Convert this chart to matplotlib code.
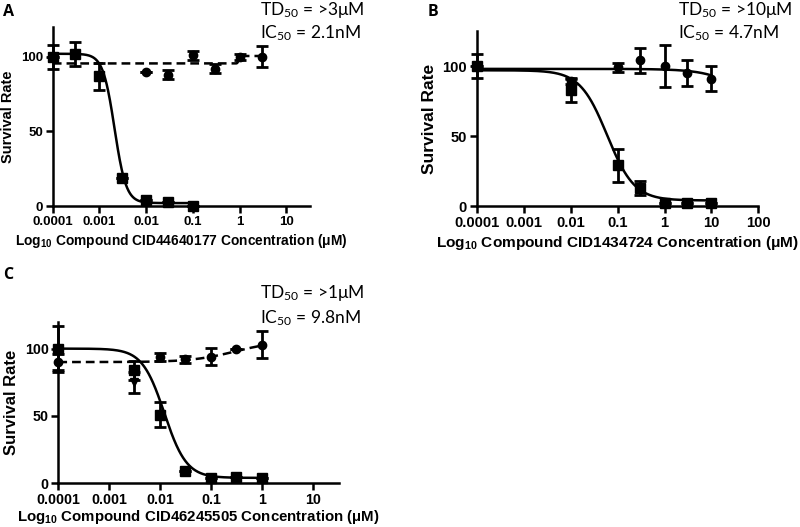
import numpy as np
import matplotlib
matplotlib.use("Agg")
import matplotlib.pyplot as plt

plt.rcParams['font.family'] = ['Liberation Sans', 'DejaVu Sans']
plt.rcParams['font.weight'] = 'bold'
plt.rcParams['mathtext.default'] = 'regular'

# ---- Panel A: CID44640177 ----
a_inh_x = [0.0001, 0.0003, 0.001, 0.003, 0.01, 0.03, 0.1]
a_inh_y = [100, 102, 87, 19, 4, 3, 0]
a_inh_err = [0, 8, 9, 0, 0, 0, 0]
a_tox_x = [0.0001, 0.01, 0.03, 0.1, 0.3, 1, 3]
a_tox_y = [100, 90, 88, 101, 92, 100, 100]
a_tox_err = [8, 0, 3, 3, 3, 2, 7]
a_inh_fit = dict(top=102, bottom=2, c=0.0021, h=3.5)   # decreasing fit
a_tox_fit = dict(bottom=95.5, top=100.5, c=0.95, h=40)  # increasing fit

# ---- Panel B: CID1434724 ----
b_inh_x = [0.0001, 0.01, 0.1, 0.3, 1, 3, 10]
b_inh_y = [100, 83, 29, 13, 2, 2.5, 2]
b_inh_err = [0, 8.5, 12, 5, 0, 0, 0]
b_tox_x = [0.0001, 0.01, 0.1, 0.3, 1, 3, 10]
b_tox_y = [100, 89, 99, 104, 100, 95, 91]
b_tox_err = [8.5, 2, 3, 9, 15, 9, 9]
b_inh_fit = dict(top=97, bottom=4, c=0.06, h=1.5)
b_tox_fit = dict(top=98, bottom=0, c=200, h=1)

# ---- Panel C: CID46245505 ----
c_inh_x = [0.0001, 0.003, 0.01, 0.03, 0.1, 0.3, 1]
c_inh_y = [100, 84, 51, 9, 4, 4.5, 4]
c_inh_err = [17, 7, 9.5, 0, 0, 0, 0]
c_tox_x = [0.0001, 0.003, 0.01, 0.03, 0.1, 0.3, 1]
c_tox_y = [90, 75, 94, 92, 94, 100, 103]
c_tox_err = [6, 8, 3, 2.5, 6.5, 0, 10]
c_tox_mk = ['o', 'v', 'o', 'o', 'o', 'o', 'o']
c_inh_fit = dict(top=100, bottom=4, c=0.012, h=2)
c_tox_fit = dict(bottom=90, top=106, c=0.3, h=1)

xticks_ac = [0.0001, 0.001, 0.01, 0.1, 1, 10]
xticks_b = [0.0001, 0.001, 0.01, 0.1, 1, 10, 100]
xtick_labels = {0.0001: '0.0001', 0.001: '0.001', 0.01: '0.01', 0.1: '0.1',
                1: '1', 10: '10', 100: '100'}


def down_curve(x, p):
    return p['bottom'] + (p['top'] - p['bottom']) / (1 + (x / p['c']) ** p['h'])


def up_curve(x, p):
    return p['bottom'] + (p['top'] - p['bottom']) / (1 + (p['c'] / x) ** p['h'])


def style_axis(ax, xlim, ylim, xticks, xlabel, tick_fs, ylab_fs, xlab_fs, xpad=3):
    ax.set_xscale('log')
    ax.set_xlim(*xlim)
    ax.set_ylim(*ylim)
    ax.spines['top'].set_visible(False)
    ax.spines['right'].set_visible(False)
    for s in ['left', 'bottom']:
        ax.spines[s].set_linewidth(1.8)
    ax.set_xticks(xticks)
    ax.set_xticklabels([xtick_labels[t] for t in xticks])
    ax.xaxis.set_minor_locator(matplotlib.ticker.NullLocator())
    ax.set_yticks([0, 50, 100])
    ax.tick_params(axis='both', width=1.8, length=5, labelsize=tick_fs, pad=2)
    for lab in ax.get_xticklabels() + ax.get_yticklabels():
        lab.set_fontweight('bold')
    ax.set_ylabel('Survival Rate', fontsize=ylab_fs, fontweight='bold', labelpad=4)
    ax.set_xlabel(xlabel, fontsize=xlab_fs, fontweight='bold', labelpad=xpad)


def draw_points(ax, x, y, err, marker, ms):
    ax.errorbar(x, y, yerr=err, fmt=marker, color='black', ms=ms,
                elinewidth=2, capsize=4.5, capthick=2, clip_on=False, zorder=3)


fig = plt.figure(figsize=(8, 5.27), dpi=100)

# Panel A
axA = fig.add_axes([0.066, 0.609, 0.321, 0.340])
xs = np.logspace(-4, -1, 300)
axA.plot(xs, down_curve(xs, a_inh_fit), color='black', lw=1.8)
xs = np.logspace(-4, np.log10(3), 400)
axA.plot(xs, up_curve(xs, a_tox_fit), color='black', lw=1.8, ls=(0, (3.5, 2)))
draw_points(axA, a_tox_x, a_tox_y, a_tox_err, 'o', 6)
draw_points(axA, a_inh_x, a_inh_y, a_inh_err, 's', 6.5)
style_axis(axA, (1e-4, 10 ** 1.5), (0, 120), xticks_ac,
           'Log$_{10}$ Compound CID44640177 Concentration ($\\mu$M)',
           9.5, 10.5, 9.9)

# Panel B
axB = fig.add_axes([0.596, 0.609, 0.352, 0.332])
xs = np.logspace(-4, 1, 400)
axB.plot(xs, down_curve(xs, b_inh_fit), color='black', lw=1.8)
axB.plot(xs, down_curve(xs, b_tox_fit), color='black', lw=1.8)
draw_points(axB, b_tox_x, b_tox_y, b_tox_err, 'o', 6)
draw_points(axB, b_inh_x, b_inh_y, b_inh_err, 's', 6.5)
style_axis(axB, (1e-4, 100), (0, 125), xticks_b,
           'Log$_{10}$ Compound CID1434724 Concentration ($\\mu$M)',
           10.6, 12.5, 11.1)

# Panel C
axC = fig.add_axes([0.0729, 0.083, 0.3507, 0.3066])
xs = np.logspace(-4, 0, 400)
axC.plot(xs, down_curve(xs, c_inh_fit), color='black', lw=1.8)
axC.plot(xs, up_curve(xs, c_tox_fit), color='black', lw=1.8, ls=(0, (3.5, 2)))
for xi, yi, ei, mk in zip(c_tox_x, c_tox_y, c_tox_err, c_tox_mk):
    draw_points(axC, [xi], [yi], [ei], mk, 6)
draw_points(axC, c_inh_x, c_inh_y, c_inh_err, 's', 6.5)
style_axis(axC, (1e-4, 10 ** 1.5), (0, 120), xticks_ac,
           'Log$_{10}$ Compound CID46245505 Concentration ($\\mu$M)',
           10.3, 12, 10.8, xpad=0.5)

# panel letters
for lbl, (px, py) in zip(['A', 'B', 'C'], [(3, 12), (428, 12), (3, 275)]):
    fig.text(px / 800, 1 - py / 527, lbl, fontsize=11.5, fontweight='bold',
             va='center', ha='left', family=['Open Sans', 'DejaVu Sans'])

# annotations
notes = [(260, 10, 'TD$_{50}$ = >3μM'), (260, 33, 'IC$_{50}$ = 2.1nM'),
         (678, 10, 'TD$_{50}$ = >10μM'), (678, 33, 'IC$_{50}$ = 4.7nM'),
         (260, 293, 'TD$_{50}$ = >1μM'), (260, 318, 'IC$_{50}$ = 9.8nM')]
for px, py, t in notes:
    fig.text(px / 800, 1 - py / 527, t, fontsize=12.5, fontweight='normal',
             va='center', ha='left', family=['Lato', 'DejaVu Sans'])

fig.savefig('out.png', dpi=100)
